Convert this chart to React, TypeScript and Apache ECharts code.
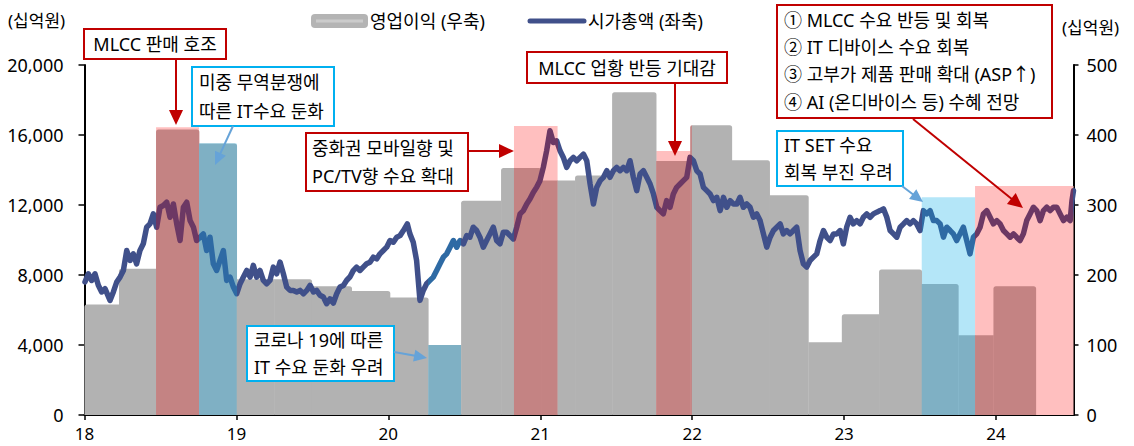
import React, { useEffect, useRef } from "react";
import * as echarts from "echarts";

// ---------- data ----------
// x values are decimal years (18 = 2018.0)
const xTickLabels = ["18", "19", "20", "21", "22", "23", "24"];
const leftTickLabels = ["0", "4,000", "8,000", "12,000", "16,000", "20,000"];
const rightTickLabels = ["0", "100", "200", "300", "400", "500"];

// 영업이익 (우축, 십억원) quarterly bars: start, end, value
const opStart = [18.0, 18.227, 18.471, 18.754, 19.002, 19.248, 19.496, 19.759, 20.011, 20.263, 20.479, 20.742, 21.005, 21.229, 21.473, 21.763, 21.987, 22.261, 22.51, 22.765, 22.985, 23.23, 23.511, 23.752, 23.983];
const opEnd = [18.227, 18.471, 18.754, 19.002, 19.248, 19.496, 19.759, 20.011, 20.263, 20.479, 20.742, 21.005, 21.229, 21.473, 21.763, 21.987, 22.261, 22.51, 22.765, 22.985, 23.23, 23.511, 23.752, 23.983, 24.262];
const opValue = [158, 209, 408, 388, 194, 194, 184, 177, 168, 100, 306, 353, 335, 342, 461, 363, 414, 364, 314, 104, 144, 208, 187, 114, 184];

// highlighted periods
const hlStart = [18.471, 18.754, 20.263, 20.827, 21.763, 23.511, 23.862];
const hlEnd = [18.754, 19.002, 20.479, 21.114, 21.998, 23.862, 24.51];
const hlTop = [411, 388, 100, 413, 377, 311, 327];
const hlKind = ["red", "blue", "blue", "red", "red", "blue", "red"];

// 시가총액 (좌축, 십억원)
const marketCap: [number, number][] = [
  [18.003, 7600], [18.025, 8070], [18.047, 7690], [18.069, 8070], [18.091, 7410], [18.113, 7030], [18.135, 7220], [18.168, 6550], [18.19, 7030], [18.212, 7600],
  [18.234, 7880], [18.256, 8260], [18.278, 9400], [18.3, 8830], [18.321, 9210], [18.343, 8640], [18.365, 9400], [18.387, 9780], [18.409, 10730], [18.431, 10920],
  [18.453, 11490], [18.475, 10730], [18.497, 11870], [18.519, 11970], [18.541, 12160], [18.563, 11300], [18.585, 12060], [18.607, 10920], [18.629, 9970], [18.651, 11870],
  [18.673, 12160], [18.695, 11110], [18.717, 10730], [18.738, 9970], [18.76, 10160], [18.782, 10350], [18.804, 9400], [18.826, 10160], [18.848, 8640], [18.87, 8260],
  [18.892, 8830], [18.914, 9400], [18.936, 7690], [18.958, 7880], [18.98, 7310], [19.002, 6930], [19.024, 7500], [19.046, 7880], [19.068, 8260], [19.09, 7880],
  [19.111, 8550], [19.133, 7880], [19.155, 8260], [19.177, 7690], [19.199, 7500], [19.221, 7690], [19.243, 8450], [19.265, 8070], [19.287, 8740], [19.309, 8070],
  [19.331, 7310], [19.353, 7120], [19.375, 7120], [19.397, 7030], [19.419, 7120], [19.441, 6930], [19.463, 7120], [19.485, 7410], [19.507, 7030], [19.528, 7120],
  [19.55, 6840], [19.572, 6740], [19.594, 6360], [19.616, 6640], [19.638, 6400], [19.66, 6930], [19.682, 7310], [19.704, 7400], [19.726, 7700], [19.748, 7900],
  [19.769, 8250], [19.791, 8450], [19.813, 8260], [19.835, 8450], [19.857, 8640], [19.879, 8730], [19.901, 9020], [19.923, 8920], [19.945, 9210], [19.967, 9400],
  [19.989, 9590], [20.011, 9970], [20.033, 9870], [20.055, 10160], [20.077, 10250], [20.099, 10540], [20.125, 10920], [20.142, 10350], [20.164, 9870], [20.186, 8830],
  [20.208, 6550], [20.23, 7120], [20.252, 7500], [20.274, 7690], [20.296, 7880], [20.318, 8260], [20.34, 8640], [20.362, 9020], [20.384, 9210], [20.406, 9590],
  [20.428, 9970], [20.45, 9590], [20.472, 9970], [20.494, 9780], [20.516, 10250], [20.537, 10160], [20.559, 10730], [20.581, 10540], [20.603, 10160], [20.625, 9590],
  [20.647, 9970], [20.669, 10350], [20.691, 10730], [20.713, 9970], [20.735, 9780], [20.757, 10440], [20.779, 10440], [20.801, 10250], [20.823, 10060], [20.845, 10730],
  [20.867, 11490], [20.889, 11680], [20.911, 12060], [20.932, 12340], [20.954, 12720], [20.976, 13010], [20.998, 13390], [21.02, 14150], [21.042, 15100], [21.064, 16240],
  [21.086, 15570], [21.108, 15670], [21.13, 15100], [21.152, 14720], [21.174, 14150], [21.196, 14530], [21.218, 14720], [21.24, 14530], [21.262, 14720], [21.284, 14910],
  [21.306, 14530], [21.328, 13200], [21.35, 12060], [21.372, 13010], [21.394, 13390], [21.416, 13580], [21.438, 13960], [21.459, 13580], [21.481, 13960], [21.503, 14150],
  [21.525, 13960], [21.547, 14150], [21.569, 13960], [21.591, 14530], [21.613, 13580], [21.635, 12820], [21.657, 13770], [21.679, 13960], [21.701, 13580], [21.723, 13200],
  [21.745, 12630], [21.767, 11870], [21.788, 11680], [21.81, 11490], [21.832, 12250], [21.854, 11870], [21.876, 12630], [21.898, 13010], [21.92, 13200], [21.942, 13390],
  [21.964, 13580], [21.986, 14720], [22.008, 14530], [22.03, 13960], [22.052, 13770], [22.074, 13010], [22.096, 12820], [22.118, 12630], [22.14, 12250], [22.162, 12440],
  [22.184, 11680], [22.206, 12440], [22.228, 11870], [22.25, 12250], [22.272, 12060], [22.294, 12060], [22.315, 12440], [22.337, 11870], [22.359, 12060], [22.381, 11870],
  [22.403, 11300], [22.425, 11490], [22.447, 11110], [22.469, 10350], [22.491, 9590], [22.513, 10160], [22.535, 10540], [22.557, 10730], [22.579, 10920], [22.6, 10350],
  [22.622, 10540], [22.644, 10350], [22.666, 10540], [22.688, 10730], [22.71, 9400], [22.732, 8640], [22.754, 8450], [22.776, 8830], [22.798, 9020], [22.82, 9210],
  [22.842, 9970], [22.864, 10540], [22.886, 10160], [22.908, 9970], [22.93, 10350], [22.952, 10350], [22.974, 10540], [22.995, 9780], [23.017, 10730], [23.039, 11300],
  [23.061, 10920], [23.083, 11110], [23.105, 10920], [23.127, 11300], [23.149, 11490], [23.171, 11300], [23.193, 11490], [23.215, 11590], [23.237, 11680], [23.259, 11780],
  [23.281, 11300], [23.303, 10540], [23.325, 10350], [23.347, 10160], [23.369, 10730], [23.391, 10920], [23.412, 11110], [23.434, 10920], [23.456, 11110], [23.478, 10920],
  [23.5, 10540], [23.522, 11680], [23.544, 11490], [23.566, 11680], [23.588, 11110], [23.61, 11110], [23.632, 10920], [23.654, 10160], [23.676, 10730], [23.698, 10540],
  [23.719, 10350], [23.741, 9970], [23.763, 10350], [23.785, 10730], [23.807, 9970], [23.829, 9210], [23.851, 10160], [23.873, 10350], [23.895, 10730], [23.917, 11490],
  [23.939, 11680], [23.961, 11300], [23.983, 10920], [24.005, 11110], [24.027, 10920], [24.049, 10540], [24.071, 10350], [24.093, 10160], [24.115, 10350], [24.136, 10160],
  [24.158, 9970], [24.18, 10350], [24.202, 11110], [24.224, 11490], [24.246, 11870], [24.268, 11680], [24.29, 11110], [24.312, 11680], [24.334, 11870], [24.356, 11680],
  [24.378, 11870], [24.4, 11870], [24.422, 11490], [24.444, 11110], [24.466, 11300], [24.488, 11110], [24.5, 12250], [24.51, 12820],
];

// ---------- styles ----------
const FONT = '"Noto Sans", "Noto Sans CJK KR", sans-serif';
const GRAY = "#b2b2b2";
const MUTED = { red: "#c48383", blue: "#7fb0c4" };
const SHADE = { red: "#ffbfbf", blue: "#b4e6f8" };
const LINE = { none: "#40508a", red: "#6c3864", blue: "#2e6aa4" };
const RED = "#c00000";
const CYAN = "#00b0f0";
const ARROW_BLUE = "#66a3d8";
const FS = 18;

function regionAt(x: number): number {
  for (let i = 0; i < hlStart.length; i++) if (x > hlStart[i] && x < hlEnd[i]) return i;
  return -1;
}

function txt(x: number, y: number, text: string, align = "left", size = FS) {
  return {
    type: "text",
    x,
    y,
    z: 101,
    style: { text, fill: "#000", fontSize: size, fontFamily: FONT, align, verticalAlign: "middle", textAlign: align, textVerticalAlign: "middle" },
  };
}
function box(x: number, y: number, w: number, h: number, color: string) {
  return { type: "rect", z: 100, shape: { x, y, width: w, height: h }, style: { fill: "#fff", stroke: color, lineWidth: 2 } };
}
function arrow(x1: number, y1: number, x2: number, y2: number, color: string, hl = 15, hw = 14) {
  const dx = x2 - x1, dy = y2 - y1, L = Math.hypot(dx, dy);
  const ux = dx / L, uy = dy / L;
  const bx = x2 - ux * hl, by = y2 - uy * hl;
  const px = -uy, py = ux;
  return [
    { type: "line", z: 100, shape: { x1, y1, x2: bx + ux, y2: by + uy }, style: { stroke: color, lineWidth: 2 } },
    { type: "polygon", z: 100, shape: { points: [[x2, y2], [bx + (px * hw) / 2, by + (py * hw) / 2], [bx - (px * hw) / 2, by - (py * hw) / 2]] }, style: { fill: color } },
  ];
}

function buildOption() {
  const graphics: any[] = [
    // axis unit titles
    txt(8, 20, "(십억원)", "left", 17),
    txt(1062, 27, "(십억원)", "left", 17),
    // legend
    { type: "rect", z: 100, shape: { x: 311, y: 14, width: 57, height: 14, r: 4 }, style: { fill: "#b4b4b4" } },
    { type: "rect", z: 100, shape: { x: 316, y: 19.5, width: 47, height: 3 }, style: { fill: "#cbcbcb" } },
    txt(370, 21, "영업이익 (우축)"),
    { type: "line", z: 100, shape: { x1: 530, y1: 21, x2: 584, y2: 21 }, style: { stroke: LINE.none, lineWidth: 5, lineCap: "round" } },
    txt(588, 21, "시가총액 (좌축)"),
    // annotations
    box(84, 29, 142, 30, RED),
    txt(155, 44, "MLCC 판매 호조", "center"),
    ...arrow(176, 59, 176, 125, RED),
    box(192, 67, 142, 59, CYAN),
    txt(199, 82, "미중 무역분쟁에"),
    txt(199, 111, "따른 IT수요 둔화"),
    ...arrow(233, 126, 215, 165, ARROW_BLUE, 13, 12),
    box(306, 133, 162, 58, RED),
    txt(312, 148, "중화권 모바일향 및"),
    txt(312, 176, "PC/TV향 수요 확대"),
    ...arrow(468, 151, 514, 151, RED),
    box(527, 52, 200, 31, RED),
    txt(627, 67.5, "MLCC 업황 반등 기대감", "center"),
    ...arrow(675, 83, 675, 156, RED),
    box(777, 5, 275, 113, RED),
    txt(784, 19.5, "① MLCC 수요 반등 및 회복"),
    txt(784, 46.5, "② IT 디바이스 수요 회복"),
    txt(784, 74, "③ 고부가 제품 판매 확대 (ASP↑)"),
    txt(784, 101.5, "④ AI (온디바이스 등) 수혜 전망"),
    ...arrow(913, 119, 1023, 208, RED),
    box(777, 131, 126, 55, CYAN),
    txt(784, 145, "IT SET 수요"),
    txt(784, 172, "회복 부진 우려"),
    ...arrow(902, 186, 923, 202, ARROW_BLUE, 13, 12),
    box(247, 326, 147, 55, CYAN),
    txt(254, 340, "코로나 19에 따른"),
    txt(254, 367, "IT 수요 둔화 우려"),
    ...arrow(394, 352, 427, 358, ARROW_BLUE, 13, 12),
  ];

  const pieces: any[] = hlStart.map((s, i) => ({ gte: s, lt: hlEnd[i], color: (LINE as any)[hlKind[i]] }));

  return {
    animation: false,
    backgroundColor: "#fff",
    textStyle: { fontFamily: FONT },
    grid: { left: 84.5, right: 60.5, top: 65, bottom: 31, containLabel: false },
    xAxis: {
      type: "value",
      min: 18,
      max: 24.51,
      interval: 1,
      axisLine: { show: true, onZero: false, lineStyle: { color: "#000", width: 2 } },
      axisTick: { show: true, length: 5, lineStyle: { color: "#000", width: 1.5 } },
      axisLabel: {
        color: "#000",
        fontSize: 17,
        fontFamily: FONT,
        margin: 10,
        showMaxLabel: false,
        formatter: (v: number) => {
          const i = Math.round(v) - 18;
          return Math.abs(v - Math.round(v)) < 1e-6 && i >= 0 && i < xTickLabels.length ? xTickLabels[i] : "";
        },
      },
      splitLine: { show: false },
    },
    yAxis: [
      {
        type: "value",
        min: 0,
        max: 20000,
        interval: 4000,
        position: "left",
        axisLine: { show: true, lineStyle: { color: "#000", width: 2 } },
        axisTick: { show: true, length: 6, lineStyle: { color: "#000", width: 1.5 } },
        axisLabel: {
          color: "#000",
          fontSize: 18,
          fontFamily: FONT,
          margin: 21,
          formatter: (v: number) => leftTickLabels[Math.round(v / 4000)] ?? "",
        },
        splitLine: { show: false },
      },
      {
        type: "value",
        min: 0,
        max: 500,
        interval: 100,
        position: "right",
        axisLine: { show: true, lineStyle: { color: "#000", width: 2 } },
        axisTick: { show: true, length: 5, lineStyle: { color: "#000", width: 1.5 } },
        axisLabel: {
          color: "#000",
          fontSize: 18,
          fontFamily: FONT,
          margin: 13,
          formatter: (v: number) => rightTickLabels[Math.round(v / 100)] ?? "",
        },
        splitLine: { show: false },
      },
    ],
    visualMap: {
      type: "piecewise",
      show: false,
      dimension: 0,
      seriesIndex: 2,
      pieces,
      outOfRange: { color: LINE.none },
    },
    series: [
      {
        type: "custom",
        name: "shade",
        xAxisIndex: 0,
        yAxisIndex: 1,
        z: 1,
        silent: true,
        clip: true,
        encode: { x: [0, 1], y: 2 },
        data: hlStart.map((s, i) => [s, hlEnd[i], hlTop[i]]),
        renderItem: (params: any, api: any) => {
          const i = params.dataIndex;
          const p0 = api.coord([hlStart[i], hlTop[i]]);
          const p1 = api.coord([hlEnd[i], 0]);
          return {
            type: "rect",
            shape: { x: p0[0], y: p0[1], width: p1[0] - p0[0], height: p1[1] - p0[1] },
            style: { fill: (SHADE as any)[hlKind[i]] },
          };
        },
      },
      {
        type: "custom",
        name: "영업이익 (우축)",
        xAxisIndex: 0,
        yAxisIndex: 1,
        z: 2,
        silent: true,
        clip: true,
        encode: { x: [0, 1], y: 2 },
        data: opStart.map((s, i) => [s, opEnd[i], opValue[i]]),
        renderItem: (params: any, api: any) => {
          const i = params.dataIndex;
          const s = opStart[i], e = opEnd[i], v = opValue[i];
          const prev = i > 0 ? opValue[i - 1] : 0;
          const next = i < opValue.length - 1 ? opValue[i + 1] : 0;
          const cuts = [s, e];
          for (let k = 0; k < hlStart.length; k++) {
            if (hlStart[k] > s + 1e-6 && hlStart[k] < e - 1e-6) cuts.push(hlStart[k]);
            if (hlEnd[k] > s + 1e-6 && hlEnd[k] < e - 1e-6) cuts.push(hlEnd[k]);
          }
          cuts.sort((a, b) => a - b);
          const children: any[] = [];
          for (let c = 0; c < cuts.length - 1; c++) {
            const a = cuts[c], b = cuts[c + 1];
            const r = regionAt((a + b) / 2);
            const p0 = api.coord([a, v]);
            const p1 = api.coord([b, 0]);
            const tl = c === 0 && prev < v ? 2.5 : 0;
            const tr = c === cuts.length - 2 && next < v ? 2.5 : 0;
            children.push({
              type: "rect",
              shape: { x: p0[0], y: p0[1], width: p1[0] - p0[0] + 0.3, height: p1[1] - p0[1], r: [tl, tr, 0, 0] },
              style: { fill: r >= 0 ? (MUTED as any)[hlKind[r]] : GRAY },
            });
          }
          return { type: "group", children };
        },
      },
      {
        type: "line",
        name: "시가총액 (좌축)",
        xAxisIndex: 0,
        yAxisIndex: 0,
        z: 3,
        silent: true,
        showSymbol: false,
        symbol: "none",
        data: marketCap,
        lineStyle: { width: 5.5, cap: "round", join: "round" },
      },
    ],
    graphic: { elements: graphics },
  };
}

export default function App() {
  const ref = useRef<HTMLDivElement>(null);
  useEffect(() => {
    if (!ref.current) return;
    const chart = echarts.init(ref.current, null, { renderer: "svg" });
    chart.setOption(buildOption() as any);
    return () => chart.dispose();
  }, []);
  return (
    <div
      ref={ref}
      style={{ position: "absolute", left: 0, top: 0, width: 1134, height: 446, background: "#fff" }}
    />
  );
}
